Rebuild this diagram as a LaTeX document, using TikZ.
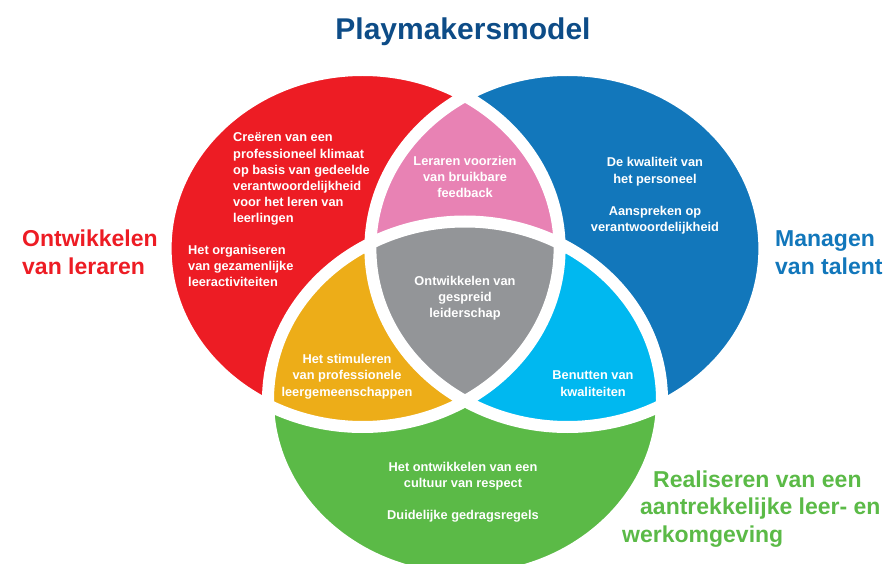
\documentclass[tikz,border=0pt]{standalone}
\usepackage{fontspec}
\setmainfont{Liberation Sans}
\usetikzlibrary{positioning}
\definecolor{redc}{HTML}{ED1C24}
\definecolor{bluec}{HTML}{1277BB}
\definecolor{greenc}{HTML}{5BBA47}
\definecolor{pinkc}{HTML}{E882B4}
\definecolor{yellowc}{HTML}{EDAD18}
\definecolor{cyanc}{HTML}{00B8F0}
\definecolor{grayc}{HTML}{939598}
\definecolor{titlec}{HTML}{0D4C87}
\tikzset{
  inner/.style={font=\fontsize{12.8}{16.2}\selectfont\bfseries, text=white, align=center, inner sep=0pt, anchor=base},
  innerleft/.style={inner, align=left, anchor=base west},
  side/.style={font=\fontsize{23}{28}\selectfont\bfseries, align=left, inner sep=0pt, anchor=base west}
}
\newcommand{\ovalR}{(362.6,248.5) ellipse [x radius=197, y radius=178.5]}
\newcommand{\ovalB}{(567.4,248.5) ellipse [x radius=197, y radius=178.5]}
\newcommand{\ovalG}{(465,400) ellipse [x radius=197, y radius=178.5]}
\begin{document}
\begin{tikzpicture}[x=1pt, y=-1pt]
    \useasboundingbox (0,0) rectangle (887,564);
    \begin{scope}
        \clip (0,0) rectangle (887,564);
        \fill[redc] \ovalR;
        \fill[bluec] \ovalB;
        \fill[greenc] \ovalG;
        \begin{scope}
            \clip \ovalR;
            \fill[pinkc] \ovalB;
            \fill[yellowc] \ovalG;
        \end{scope}
        \begin{scope}
            \clip \ovalB;
            \fill[cyanc] \ovalG;
            \clip \ovalR;
            \fill[grayc] \ovalG;
        \end{scope}
        \draw[white, line width=12pt] \ovalR \ovalB \ovalG;
    \end{scope}

    \node[font=\fontsize{30}{36}\selectfont\bfseries, text=titlec, anchor=base, inner sep=0pt] (title) at (463,40) {Playmakersmodel};

    % anchors sit on the baseline of the last line
    \node[side, text=redc] (ontw) at (22,275) {Ontwikkelen\\van leraren};
    \node[side, text=bluec] (talent) at (775,275) {Managen\\van talent};
    \node[side, text=greenc] (real1) at (653,487) {Realiseren van een};
    \node[side, text=greenc] (real2) at (640,514) {aantrekkelijke leer- en};
    \node[side, text=greenc] (real3) at (622,542) {werkomgeving};

    \node[innerleft] (klimaat) at (233,223) {Creëren van een\\professioneel klimaat\\op basis van gedeelde\\verantwoordelijkheid\\voor het leren van\\leerlingen};
    \node[innerleft] (organiseren) at (188,287) {Het organiseren\\van gezamenlijke\\leeractiviteiten};
    \node[inner] (feedback) at (465,198) {Leraren voorzien\\van bruikbare\\feedback};
    \node[inner] (kwaliteit) at (655,232) {De kwaliteit van\\het personeel\\[16.5pt]Aanspreken op\\verantwoordelijkheid};
    \node[inner] (leiderschap) at (465,318) {Ontwikkelen van\\gespreid\\leiderschap};
    \node[inner] (stimuleren) at (347,396) {Het stimuleren\\van professionele\\leergemeenschappen};
    \node[inner] (benutten) at (593,396) {Benutten van\\kwaliteiten};
    \node[inner] (cultuur) at (463,519) {Het ontwikkelen van een\\cultuur van respect\\[15pt]Duidelijke gedragsregels};
\end{tikzpicture}
\end{document}
